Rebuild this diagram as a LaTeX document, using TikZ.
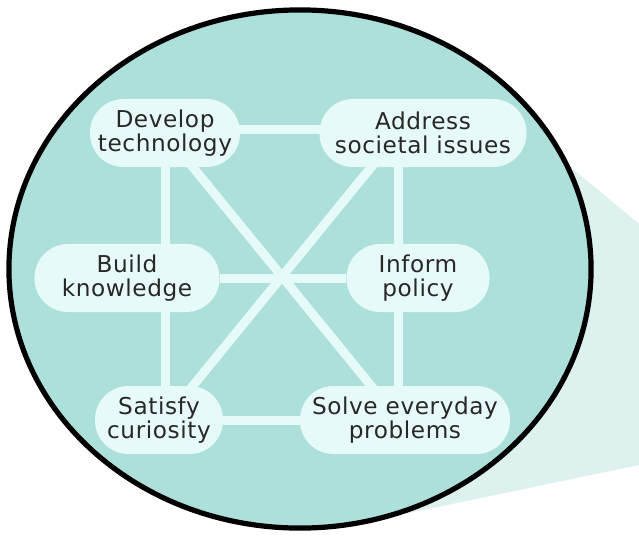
\documentclass[tikz,border=0pt]{standalone}
\usepackage{fontspec}
\setmainfont{DejaVu Sans}[LetterSpace=2.5]
\usepackage{xcolor}
\usetikzlibrary{backgrounds}
\definecolor{lensfill}{HTML}{ADDFDB}
\definecolor{bubblefill}{HTML}{E6FAF9}
\definecolor{beamfill}{HTML}{DDF1EF}
\definecolor{labeltext}{HTML}{282828}
\tikzset{
    goal/.style={rectangle, rounded corners=0.84cm, fill=bubblefill, align=center, minimum height=1.7cm, inner sep=2pt, text=labeltext, font=\fontsize{16.5}{16.8}\selectfont},
    link/.style={draw=bubblefill, line width=0.225cm},
    lens/.style={draw=black, line width=0.13cm, fill=lensfill},
    beam/.style={fill=beamfill}
}

\begin{document}
\begin{tikzpicture}[x=0.025cm, y=-0.025cm]
        \useasboundingbox (0,0) rectangle (639,535);

        % Goals
        \node[goal, minimum width=3.75cm] (Dev) at (165,133) {Develop\\technology};
        \node[goal, minimum width=5.175cm] (Addr) at (423,133) {Address\\societal issues};
        \node[goal, minimum width=4.625cm] (Build) at (127,278) {Build\\knowledge};
        \node[goal, minimum width=3.575cm] (Inform) at (418,278) {Inform\\policy};
        \node[goal, minimum width=3.2cm] (Sat) at (159,420) {Satisfy\\curiosity};
        \node[goal, minimum width=5.25cm] (Solve) at (405,420) {Solve everyday\\problems};

        % Frame corners
        \coordinate (NE) at ([xshift=-0.6cm]Addr.center);
        \coordinate (SW) at (Dev.center |- Sat.center);
        \coordinate (SE) at (NE |- Sat.center);

        \begin{pgfonlayer}{background}
            % Lens
            \fill[beam] (550,150) -- (639,224) -- (639,465) -- (380,519) -- cycle;
            \draw[lens] (300,269) ellipse [x radius=7.275cm, y radius=6.475cm];

            % Connections
            \draw[link] ([yshift=0.1cm]Dev.center) -- ([yshift=0.1cm]NE);
            \draw[link] (Build) -- (Inform);
            \draw[link] (Sat) -- (Solve);
            \draw[link] (Dev.center) -- (SW);
            \draw[link] (NE) -- (SE);
            \draw[link] (Dev.center) -- (SE);
            \draw[link] (NE) -- (SW);
        \end{pgfonlayer}

    \end{tikzpicture}
\end{document}
